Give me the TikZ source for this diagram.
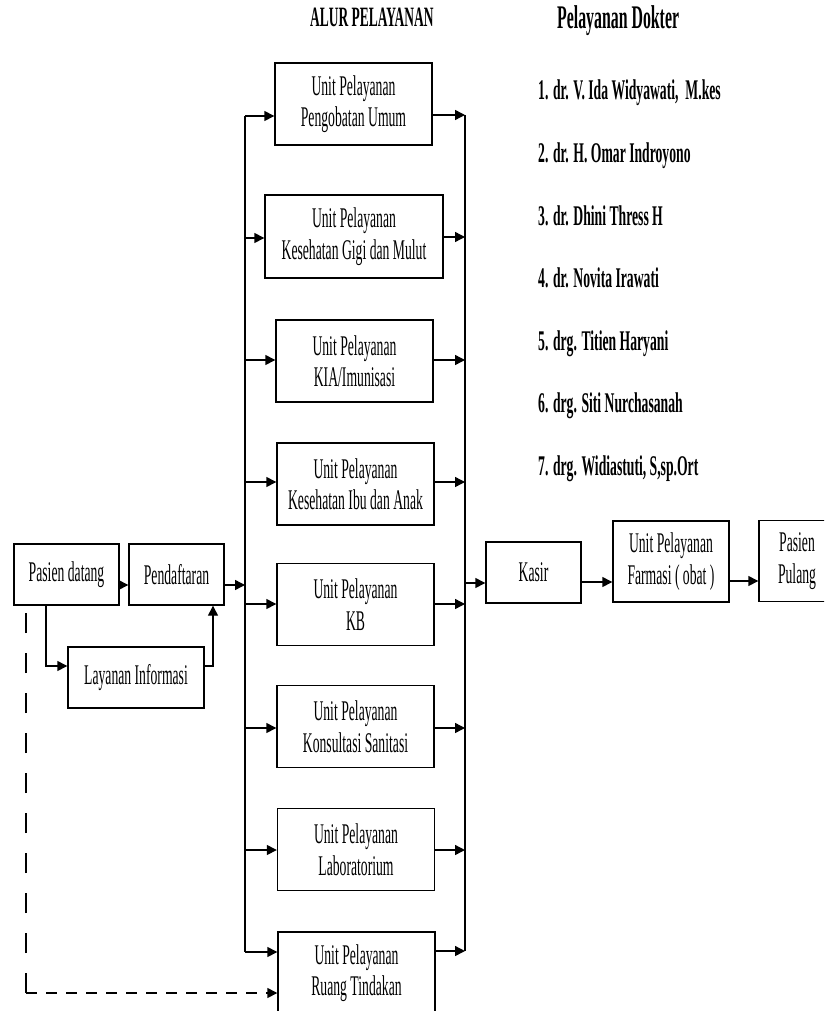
\documentclass[tikz,border=0pt]{standalone}
\usepackage{fontspec}
\setmainfont{Liberation Serif}[FakeStretch=0.48]
\usetikzlibrary{arrows.meta,calc}
\tikzset{
  box/.style={draw, line width=1.4pt, minimum width=157pt, minimum height=82pt, inner sep=2pt, align=center, font=\fontsize{28.5}{31.5}\selectfont},
  sbox/.style={box, minimum height=61pt},
  conn/.style={line width=1.4pt},
  arr/.style={conn, -{Triangle[length=10pt,width=10pt]}},
  dashv/.style={conn, dash pattern=on 20pt off 20pt},
  dashh/.style={arr, dash pattern=on 11pt off 9pt},
  listitem/.style={anchor=base west, inner sep=0pt, font=\bfseries\fontsize{28.5}{31}\selectfont},
  heading/.style={anchor=base west, inner sep=0pt, font=\bfseries\fontsize{#1}{#1}\selectfont}
}
\begin{document}
\begin{tikzpicture}[x=1pt,y=-1pt]
\useasboundingbox (0,0) rectangle (824,1011);
\fill[white] (0,0) rectangle (824,1011);
\clip (0,0) rectangle (824,1011);

% headings
\node[heading=28] (t1) at (310,27) {ALUR PELAYANAN};
\node[heading=33] (t2) at (557,29) {Pelayanan Dokter};

% doctor list
\node[listitem] (d1) at (538,100) {1. dr. V. Ida Widyawati,~ M.kes};
\node[listitem] (d2) at (538,163) {2. dr. H. Omar Indroyono};
\node[listitem] (d3) at (538,225) {3. dr. Dhini Thress H};
\node[listitem] (d4) at (538,287) {4. dr. Novita Irawati};
\node[listitem] (d5) at (538,350) {5. drg. Titien Haryani};
\node[listitem] (d6) at (538,412) {6. drg. Siti Nurchasanah};
\node[listitem] (d7) at (538,475) {7. drg. Widiastuti, S,sp.Ort};

% service units
\node[box] (b1) at (353.5,104) {Unit Pelayanan\\Pengobatan Umum};
\node[box, minimum width=178pt, minimum height=83pt] (b2) at (354,236.5) {Unit Pelayanan\\Kesehatan Gigi dan Mulut};
\node[box] (b3) at (354.5,361) {Unit Pelayanan\\KIA/Imunisasi};
\node[box] (b4) at (355.5,484) {Unit Pelayanan\\Kesehatan Ibu dan Anak};
\node[box] (b5) at (355.5,604.5) {Unit Pelayanan\\KB};
\node[box] (b6) at (355.5,726.5) {Unit Pelayanan\\Konsultasi Sanitasi};
\node[box] (b7) at (356,849.5) {Unit Pelayanan\\Laboratorium};
\node[box] (b8) at (356.5,973) {Unit Pelayanan\\Ruang Tindakan};

% left side
\node[sbox, minimum width=105pt] (pd) at (66.5,574.5) {Pasien datang};
\node[sbox, minimum width=95pt] (pf) at (176.5,574.5) {Pendaftaran};
\node[sbox, minimum width=136pt] (li) at (136,677.5) {Layanan Informasi};

% right side
\node[sbox, minimum width=95pt] (ks) at (533.5,572.5) {Kasir};
\node[box, minimum width=116pt, minimum height=81pt] (fm) at (671,561.5) {Unit Pelayanan\\Farmasi ( obat )};
\node[box, minimum width=76pt, minimum height=81pt] (pp) at (797,561) {Pasien\\Pulang};

% bus coordinates
\coordinate (lt) at (245,116);
\coordinate (lb) at (245,952);
\coordinate (rt) at (465,115);
\coordinate (rb) at (465,951);
\coordinate (crn) at (26,993);
\coordinate (ya) at (0,585);
\coordinate (yi) at (0,666);
\coordinate (xi1) at (46,0);
\coordinate (xi2) at (213,0);

% buses
\draw[conn] (lt) -- (lb);
\draw[conn] (rt) -- (rb);

% left flow
\draw[arr] (pd.east|-ya) -- (pf.west|-ya);
\draw[arr] (pf.east|-ya) -- (lt|-ya);
\draw[arr] (xi1|-pd.south) -- (xi1|-yi) -- (li.west|-yi);
\draw[arr] (li.east|-yi) -- (xi2|-yi) -- (xi2|-pf.south);

% bus to units
\foreach \n/\yin/\yout in {b1/116/115, b2/238/237, b3/360/360, b4/482/482, b5/604/604, b6/728/728, b7/850/850, b8/952/951}{
  \draw[arr] (lt|-{0,\yin}) -- (\n.west|-{0,\yin});
  \draw[arr] (\n.east|-{0,\yout}) -- (rt|-{0,\yout});
}

% dashed path
\draw[dashv] (crn) -- (crn|-pd.south);
\draw[dashh] (crn) -- (b8.west|-crn);

% to cashier and out
\draw[arr] (rt|-{0,583}) -- (ks.west|-{0,583});
\draw[arr] (ks.east|-{0,582}) -- (fm.west|-{0,582});
\draw[arr] (fm.east|-{0,581}) -- (pp.west|-{0,581});
\end{tikzpicture}
\end{document}
